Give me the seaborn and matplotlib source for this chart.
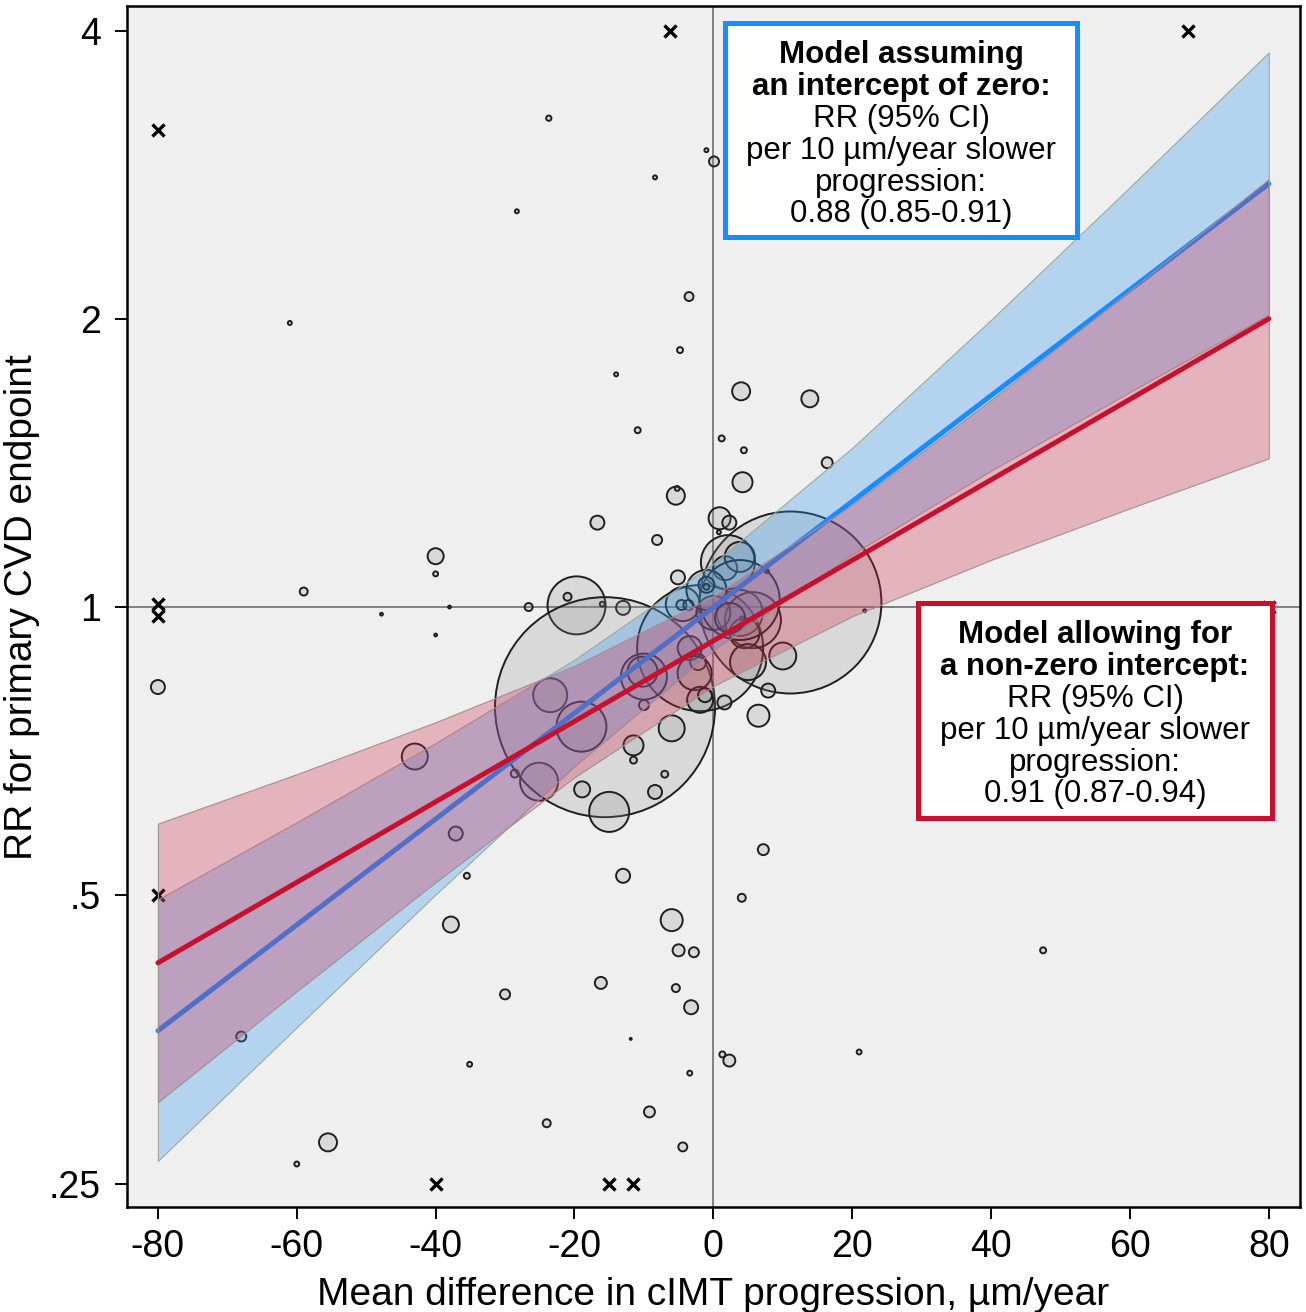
import numpy as np
import pandas as pd
import seaborn as sns
import matplotlib.pyplot as plt
from matplotlib.patches import Rectangle
from matplotlib.ticker import NullLocator

# Study estimates: mean difference in cIMT progression (um/year), RR, relative weight
study_x = [-23.7, -28.3, -61.0, -1.0, 0.1, -8.4, -3.5, -4.8, -14.0, 4.0,
           13.9, -80.0, -59.0, -40.0, -40.0, -47.8, -38.0, -40.0, -26.6, -43.0,
           -28.6, -23.5, -25.1, -10.9, 1.2, 4.4, 16.4, 4.2, -5.4, -5.2,
           -16.7, -8.1, 0.9, 2.3, 0.8, -5.1, -19.7, -21.0, -16.0, -13.0,
           -15.6, 11.1, -1.9, 2.1, 1.7, 3.8, -4.4, 3.8, 5.7, 4.5,
           0.0, -3.4, -2.2, -2.7, 5.0, 10.0, -10.0, -10.2, -1.9, -1.2,
           1.6, 7.9, 6.5, -6.0, -11.5, -11.5, -10.0, -19.0, -18.9, -15.0,
           -8.4, -7.0, 21.8, 7.7, 4.1, 3.8, -1.0, 2.4, -4.6, -3.6,
           -1.0, -1.0, -37.1, -35.5, -37.8, -30.0, -35.1, -24.0, -68.0, -55.5,
           -60.0, -13.0, -6.0, -5.0, -2.8, -16.2, -5.4, -3.2, -11.9, -3.4,
           -9.2, -4.4, 7.2, 4.1, 1.3, 2.3, 21.0, 47.5]
study_rr = [3.24, 2.59, 1.98, 3.00, 2.92, 2.81, 2.11, 1.855, 1.75, 1.68,
            1.65, 0.825, 1.038, 1.13, 1.083, 0.983, 1.0, 0.935, 1.0, 0.698,
            0.670, 0.809, 0.657, 1.53, 1.50, 1.458, 1.415, 1.35, 1.307, 1.33,
            1.225, 1.175, 1.238, 1.225, 1.197, 1.074, 1.004, 1.025, 1.007, 0.998,
            0.786, 1.011, 0.906, 1.114, 1.098, 1.128, 1.007, 0.986, 0.969, 0.939,
            0.986, 0.906, 0.876, 0.853, 0.876, 0.889, 0.846, 0.856, 0.80, 0.809,
            0.795, 0.818, 0.77, 0.747, 0.717, 0.692, 0.79, 0.75, 0.645, 0.611,
            0.641, 0.669, 0.991, 1.09, 0.973, 1.017, 1.042, 0.974, 1.005, 1.005,
            1.055, 1.05, 0.58, 0.524, 0.466, 0.394, 0.333, 0.289, 0.356, 0.276,
            0.262, 0.524, 0.471, 0.438, 0.436, 0.405, 0.40, 0.382, 0.354, 0.326,
            0.297, 0.273, 0.558, 0.497, 0.341, 0.336, 0.343, 0.438]
study_weight = [7, 4, 4, 4, 25, 4, 20, 9, 4, 81,
                72, 49, 16, 64, 6, 2, 2, 2, 16, 169,
                16, 289, 361, 9, 9, 9, 30, 100, 81, 6,
                49, 25, 121, 49, 4, 49, 841, 16, 6, 49,
                12100, 8281, 3969, 729, 144, 225, 289, 529, 784, 225,
                289, 144, 64, 289, 324, 182, 529, 225, 169, 49,
                49, 49, 121, 169, 100, 12, 25, 625, 64, 400,
                49, 12, 2, 4, 4, 1600, 400, 225, 25, 25,
                64, 9, 49, 9, 64, 25, 6, 16, 25, 81,
                6, 49, 121, 36, 25, 36, 16, 49, 1, 6,
                30, 20, 30, 16, 9, 36, 6, 9]

# Estimates truncated at the plot limits
trunc_x = [-80, -6.2, 68.3, -80, -80, 80, -80, -40, -15, -11.6]
trunc_rr = [3.15, 4, 4, 1.007, 0.979, 1.0, 0.5, 0.25, 0.25, 0.25]

# Fitted lines (RR at the ends of the x range)
fit_x = [-80, 80]
zero_fit = [0.361, 2.767]
free_fit = [0.425, 2.0]

# Confidence bands read at steps of 20 um/year
band_x = [-80, -60, -40, -20, 0, 20, 40, 60, 80]
zero_lo = [0.264, 0.364, 0.501, 0.682, 0.901, 1.135, 1.388, 1.677, 2.020]
zero_hi = [0.495, 0.596, 0.721, 0.881, 1.110, 1.466, 1.995, 2.745, 3.795]
free_lo = [0.304, 0.397, 0.516, 0.664, 0.827, 0.978, 1.120, 1.268, 1.430]
free_hi = [0.594, 0.669, 0.758, 0.868, 1.026, 1.279, 1.645, 2.141, 2.798]

x_ticks = [-80, -60, -40, -20, 0, 20, 40, 60, 80]
y_ticks = [0.25, 0.5, 1, 2, 4]
y_tick_labels = [".25", ".5", "1", "2", "4"]

BLUE = "#1a8cff"
RED = "#c8102e"

sns.set_theme(style="ticks")
plt.rcParams["font.family"] = ["Liberation Sans", "DejaVu Sans"]
plt.rcParams["text.color"] = "black"
plt.rcParams["axes.labelcolor"] = "black"

fig, ax = plt.subplots(figsize=(13.06, 13.12), dpi=100)
fig.subplots_adjust(left=0.097, right=0.9954, top=0.9954, bottom=0.0798)
ax.set_facecolor("#efefef")
ax.set_yscale("log", base=2)

ax.axvline(0, color="#808080", lw=1.4, zorder=0.5)
ax.axhline(1, color="#808080", lw=1.4, zorder=0.5)

# bubbles, area proportional to weight
studies = pd.DataFrame({"x": study_x, "rr": study_rr, "w": study_weight})
wmin, wmax = min(study_weight), max(study_weight)
pt2 = (2 / (100 / 72)) ** 2
sns.scatterplot(data=studies, x="x", y="rr", size="w",
                sizes=(wmin * pt2, wmax * pt2), size_norm=(wmin, wmax),
                legend=False, ax=ax, zorder=1, linewidth=1.4)
bubbles = ax.collections[-1]
bubbles.set_facecolor((0.55, 0.55, 0.55, 0.22))
bubbles.set_edgecolor("#1f1f1f")

sns.scatterplot(x=trunc_x, y=trunc_rr, marker="x", s=75, color="black",
                linewidth=2.4, ax=ax, zorder=1.5, legend=False)

# zero-intercept model
ax.fill_between(band_x, zero_lo, zero_hi, facecolor=(46/255, 149/255, 242/255, 0.3),
                edgecolor="#9aab9a", lw=0.8, zorder=2)
sns.lineplot(x=fit_x, y=zero_fit, color=BLUE, lw=3.6, ax=ax, zorder=3,
             solid_capstyle="round")

# non-zero intercept model
ax.fill_between(band_x, free_lo, free_hi, facecolor=(209/255, 42/255, 79/255, 0.3),
                edgecolor="#a09090", lw=0.8, zorder=4)
sns.lineplot(x=fit_x, y=free_fit, color=RED, lw=3.6, ax=ax, zorder=5,
             solid_capstyle="round")

ax.set_xlim(-84.5, 84.5)
ax.set_ylim(0.2361, 4.243)
ax.set_xticks(x_ticks)
ax.set_xticklabels([str(t) for t in x_ticks])
ax.set_yticks(y_ticks)
ax.set_yticklabels(y_tick_labels)
ax.yaxis.set_minor_locator(NullLocator())
ax.tick_params(axis="both", length=8.6, width=1.4, labelsize=27, color="black",
               labelcolor="black")
ax.tick_params(axis="x", pad=7)
ax.tick_params(axis="y", pad=10)
for sp in ax.spines.values():
    sp.set_visible(True)
    sp.set_color("black")
    sp.set_linewidth(1.8)

ax.set_xlabel("Mean difference in cIMT progression, µm/year", fontsize=28,
              labelpad=9, color="black")
ax.set_ylabel("RR for primary CVD endpoint", fontsize=28, labelpad=6, color="black")

# annotation boxes
ax.add_patch(Rectangle((0.510, 0.8077), 0.300, 0.1781, transform=ax.transAxes,
                       facecolor="white", edgecolor=BLUE, lw=3.6, zorder=6))
ax.add_patch(Rectangle((0.6744, 0.324), 0.3017, 0.179, transform=ax.transAxes,
                       facecolor="white", edgecolor=RED, lw=3.6, zorder=6))

blue_lines = [("Model assuming", "bold"), ("an intercept of zero:", "bold"),
              ("RR (95% CI)", "normal"), ("per 10 µm/year slower", "normal"),
              ("progression:", "normal"), ("0.88 (0.85-0.91)", "normal")]
red_lines = [("Model allowing for", "bold"), ("a non-zero intercept:", "bold"),
             ("RR (95% CI)", "normal"), ("per 10 µm/year slower", "normal"),
             ("progression:", "normal"), ("0.91 (0.87-0.94)", "normal")]
blue_y = [0.95255, 0.92591, 0.89928, 0.87264, 0.84600, 0.82020]
red_y = [0.46974, 0.44310, 0.41647, 0.38983, 0.36319, 0.33738]
for (txt, wt), yy in zip(blue_lines, blue_y):
    ax.text(0.660, yy, txt, transform=ax.transAxes, ha="center", va="baseline",
            fontsize=22.5, fontweight=wt, color="black", zorder=7)
for (txt, wt), yy in zip(red_lines, red_y):
    ax.text(0.8253, yy, txt, transform=ax.transAxes, ha="center", va="baseline",
            fontsize=22.5, fontweight=wt, color="black", zorder=7)

fig.savefig("out.png", dpi=100, facecolor="white")
